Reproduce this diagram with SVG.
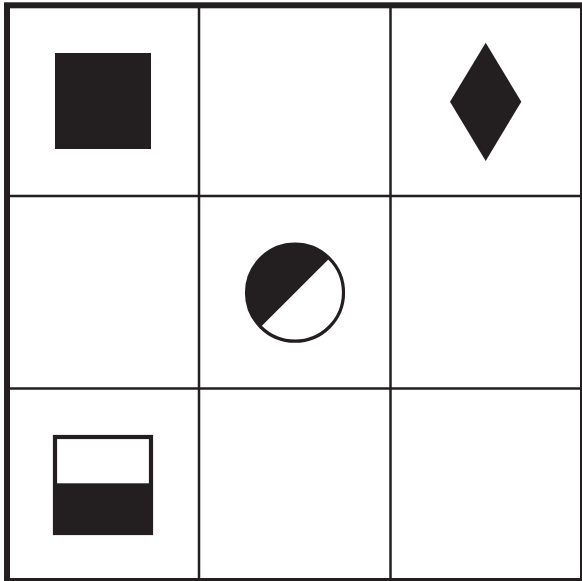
<svg xmlns="http://www.w3.org/2000/svg" width="582" height="581" viewBox="0 0 582 581">
  <style>
    .grid { fill: none; stroke: #231f20; stroke-width: 2.5; }
    .frame { fill: none; stroke: #231f20; stroke-width: 6; }
    .ink { fill: #231f20; }
  </style>
  <rect x="0" y="0" width="582" height="581" fill="#ffffff"/>
  <g id="grid">
    <line class="grid" x1="199" y1="5" x2="199" y2="581"/>
    <line class="grid" x1="390.5" y1="5" x2="390.5" y2="581"/>
    <line class="grid" x1="7" y1="196" x2="582" y2="196"/>
    <line class="grid" x1="7" y1="388.5" x2="582" y2="388.5"/>
    <rect class="frame" x="7" y="5.3" width="576" height="575.7"/>
  </g>
  <g id="square">
    <rect class="ink" x="55" y="53" width="96" height="96"/>
  </g>
  <g id="diamond">
    <polygon class="ink" points="485.7,42.7 521.3,101.7 485.7,161 450,101.7"/>
  </g>
  <g id="half-circle">
    <path class="ink" d="M329.3,258.4 A48.5,48.5 0 0 0 260.7,327 Z"/>
    <circle cx="295" cy="292.7" r="48.5" fill="none" stroke="#231f20" stroke-width="3.2"/>
  </g>
  <g id="half-box">
    <rect x="55" y="437" width="96" height="96" fill="#ffffff" stroke="#231f20" stroke-width="4.2"/>
    <rect class="ink" x="53" y="483.3" width="100" height="51.7"/>
  </g>
</svg>
